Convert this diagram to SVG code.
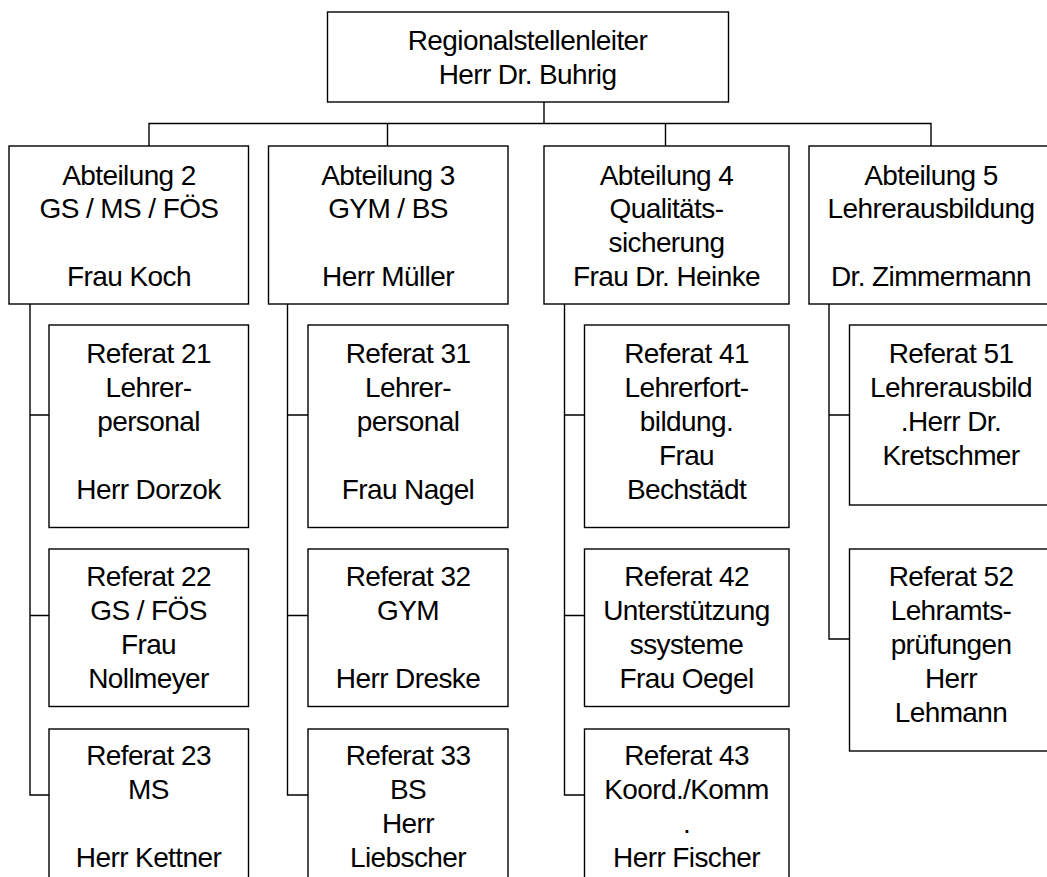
<svg xmlns="http://www.w3.org/2000/svg" width="1047" height="877" viewBox="0 0 1047 877">
<style>
.box{fill:#fff;stroke:#000;stroke-width:1.4}
.con{fill:none;stroke:#000;stroke-width:1.4}
text{font-family:"Liberation Sans",Arial,sans-serif;font-size:28px;letter-spacing:-0.6px;fill:#000;text-anchor:middle}
</style>
<rect width="1047" height="877" fill="#fff"/>
<g id="connectors">
<path class="con" d="M544,102V123.5M149,146V123.5H931V146M387.5,123.5V146M665.5,123.5V146"/>
<path class="con" d="M30,304V795H49M30,415H49M30,615.5H49"/>
<path class="con" d="M287.5,304V795H308M287.5,415H308M287.5,615.5H308"/>
<path class="con" d="M564.5,304V795H584M564.5,415H584M564.5,615.5H584"/>
<path class="con" d="M829,304V639H849M829,415H849"/>
</g>
<g id="leiter">
<rect class="box" x="327.5" y="12" width="401" height="90"/>
<text x="527.5" y="50">Regionalstellenleiter</text>
<text x="527.5" y="83.5">Herr Dr. Buhrig</text>
</g>
<g id="abt2">
<rect class="box" x="9" y="146" width="239.5" height="158"/>
<text x="129" y="184.5">Abteilung 2</text>
<text x="129" y="218">GS / MS / FÖS</text>
<text x="129" y="286">Frau Koch</text>
</g>
<g id="abt3">
<rect class="box" x="268.5" y="146" width="239.5" height="158"/>
<text x="388" y="184.5">Abteilung 3</text>
<text x="388" y="218">GYM / BS</text>
<text x="388" y="286">Herr Müller</text>
</g>
<g id="abt4">
<rect class="box" x="544" y="146" width="245" height="158"/>
<text x="666.5" y="184.5">Abteilung 4</text>
<text x="666.5" y="218">Qualitäts-</text>
<text x="666.5" y="252">sicherung</text>
<text x="666.5" y="286">Frau Dr. Heinke</text>
</g>
<g id="abt5">
<rect class="box" x="809" y="146" width="245" height="158"/>
<text x="931" y="184.5">Abteilung 5</text>
<text x="931" y="218">Lehrerausbildung</text>
<text x="931" y="286">Dr. Zimmermann</text>
</g>
<g id="ref21">
<rect class="box" x="49" y="325" width="199.5" height="202.5"/>
<text x="148.5" y="362.5">Referat 21</text>
<text x="148.5" y="396.5">Lehrer-</text>
<text x="148.5" y="430.5">personal</text>
<text x="148.5" y="498.5">Herr Dorzok</text>
</g>
<g id="ref22">
<rect class="box" x="49" y="549" width="199.5" height="157.5"/>
<text x="148.5" y="586">Referat 22</text>
<text x="148.5" y="620">GS / FÖS</text>
<text x="148.5" y="654">Frau</text>
<text x="148.5" y="688">Nollmeyer</text>
</g>
<g id="ref23">
<rect class="box" x="49" y="729" width="199.5" height="160"/>
<text x="148.5" y="765">Referat 23</text>
<text x="148.5" y="799">MS</text>
<text x="148.5" y="867">Herr Kettner</text>
</g>
<g id="ref31">
<rect class="box" x="308" y="325" width="200" height="202.5"/>
<text x="408" y="362.5">Referat 31</text>
<text x="408" y="396.5">Lehrer-</text>
<text x="408" y="430.5">personal</text>
<text x="408" y="498.5">Frau Nagel</text>
</g>
<g id="ref32">
<rect class="box" x="308" y="549" width="200" height="157.5"/>
<text x="408" y="586">Referat 32</text>
<text x="408" y="620">GYM</text>
<text x="408" y="688">Herr Dreske</text>
</g>
<g id="ref33">
<rect class="box" x="308" y="729" width="200" height="160"/>
<text x="408" y="765">Referat 33</text>
<text x="408" y="799">BS</text>
<text x="408" y="833">Herr</text>
<text x="408" y="867">Liebscher</text>
</g>
<g id="ref41">
<rect class="box" x="584.5" y="325" width="204.5" height="202.5"/>
<text x="686.5" y="362.5">Referat 41</text>
<text x="686.5" y="396.5">Lehrerfort-</text>
<text x="686.5" y="430.5">bildung.</text>
<text x="686.5" y="464.5">Frau</text>
<text x="686.5" y="498.5">Bechstädt</text>
</g>
<g id="ref42">
<rect class="box" x="584.5" y="549" width="204.5" height="157.5"/>
<text x="686.5" y="586">Referat 42</text>
<text x="686.5" y="620">Unterstützung</text>
<text x="686.5" y="654">ssysteme</text>
<text x="686.5" y="688">Frau Oegel</text>
</g>
<g id="ref43">
<rect class="box" x="584.5" y="729" width="204.5" height="160"/>
<text x="686.5" y="765">Referat 43</text>
<text x="686.5" y="799">Koord./Komm</text>
<text x="686.5" y="833">.</text>
<text x="686.5" y="867">Herr Fischer</text>
</g>
<g id="ref51">
<rect class="box" x="849.5" y="325" width="204" height="180"/>
<text x="951" y="362.5">Referat 51</text>
<text x="951" y="396.5">Lehrerausbild</text>
<text x="951" y="430.5">.Herr Dr.</text>
<text x="951" y="464.5">Kretschmer</text>
</g>
<g id="ref52">
<rect class="box" x="849.5" y="549" width="204" height="202"/>
<text x="951" y="586">Referat 52</text>
<text x="951" y="620">Lehramts-</text>
<text x="951" y="654">prüfungen</text>
<text x="951" y="688">Herr</text>
<text x="951" y="722">Lehmann</text>
</g>
</svg>
